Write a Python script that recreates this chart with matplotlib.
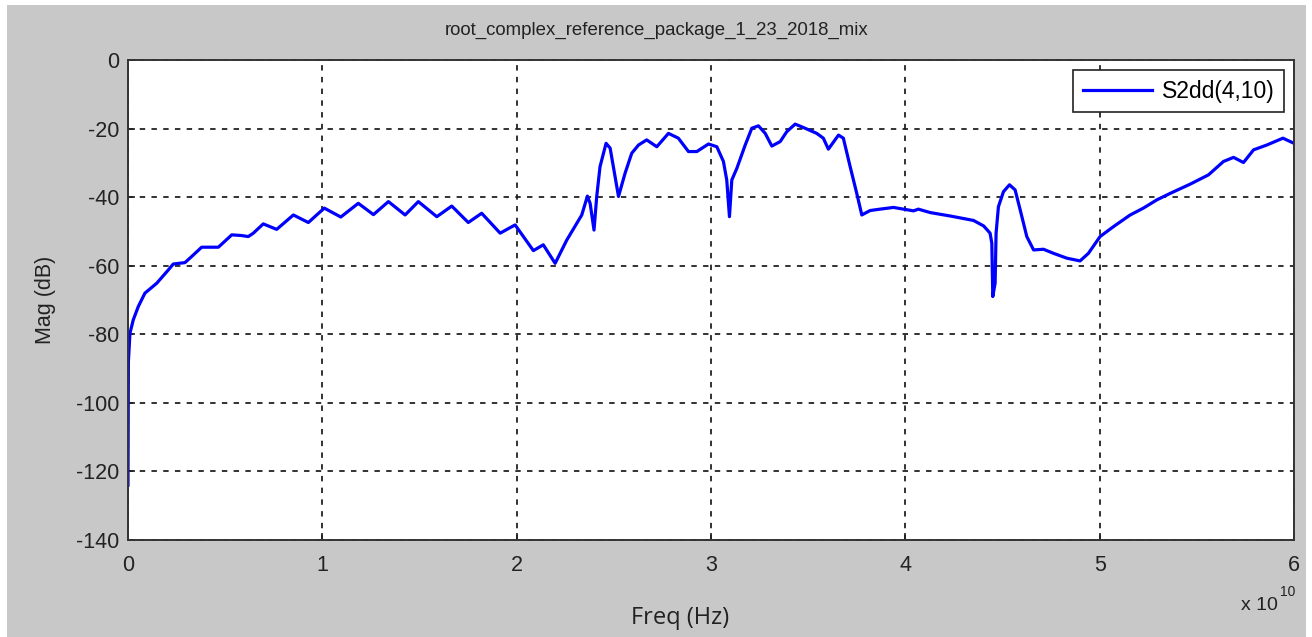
import numpy as np
import matplotlib
matplotlib.use("Agg")
import matplotlib.pyplot as plt
from matplotlib.patches import Rectangle
from matplotlib.ticker import FuncFormatter

# S2dd(4,10) magnitude trace, frequency in GHz and magnitude in dB
freq_ghz = [0.0, 0.02, 0.10, 0.27, 0.53, 0.87, 1.48, 2.08, 2.33, 2.93,
            3.28, 3.79, 4.65, 5.34, 5.85, 6.19, 6.45, 6.96, 7.65, 8.51,
            9.28, 10.1, 10.95, 11.85, 12.63, 13.40, 14.26, 14.94, 15.89, 16.66,
            17.51, 18.20, 19.15, 19.92, 20.86, 21.37, 21.98, 22.58, 23.35, 23.64,
            23.78, 23.98, 24.12, 24.29, 24.60, 24.81, 25.24, 25.58, 25.92, 26.27,
            26.69, 27.21, 27.81, 28.32, 28.84, 29.27, 29.87, 30.30, 30.64, 30.81,
            30.95, 31.07, 31.33, 31.76, 32.10, 32.44, 32.79, 33.13, 33.56, 33.90,
            34.33, 34.84, 35.44, 35.78, 36.04, 36.56, 36.81, 37.16, 37.50, 37.76,
            38.19, 38.70, 39.39, 40.42, 40.67, 41.28, 42.31, 43.51, 44.03, 44.36,
            44.45, 44.50, 44.62, 44.67, 44.79, 45.05, 45.36, 45.65, 45.91, 46.25,
            46.60, 47.11, 47.63, 48.31, 48.99, 49.42, 50.02, 50.71, 51.57, 52.25,
            52.94, 53.63, 54.66, 55.60, 56.37, 56.89, 57.40, 57.92, 58.60, 59.43,
            60.0]
mag_db = [-124.0, -88.0, -79.7, -75.8, -71.9, -68.0, -65.1, -61.2, -59.5, -59.1,
          -57.3, -54.6, -54.6, -51.0, -51.2, -51.5, -50.5, -47.8, -49.4, -45.2,
          -47.4, -43.2, -45.8, -41.8, -45.1, -41.3, -45.2, -41.3, -45.7, -42.6,
          -47.4, -44.7, -50.5, -48.1, -55.6, -53.9, -59.3, -52.5, -45.2, -39.7,
          -41.8, -49.6, -39.8, -31.1, -24.3, -25.7, -39.8, -33.0, -27.2, -24.8,
          -23.3, -25.3, -21.4, -22.8, -26.7, -26.7, -24.5, -25.3, -29.6, -35.0,
          -45.7, -35.0, -31.6, -24.8, -19.9, -19.2, -21.4, -25.1, -23.8, -20.9,
          -18.7, -19.9, -21.4, -22.8, -26.0, -21.9, -22.8, -31.1, -38.9, -45.2,
          -43.9, -43.5, -43.0, -44.0, -43.5, -44.5, -45.5, -46.8, -48.4, -50.5,
          -53.4, -69.0, -65.1, -50.5, -42.8, -38.4, -36.4, -37.9, -43.7, -51.5,
          -55.4, -55.2, -56.4, -57.8, -58.6, -56.4, -51.5, -48.6, -45.2, -43.2,
          -40.8, -38.9, -36.2, -33.5, -29.6, -28.4, -29.9, -26.2, -24.8, -22.8,
          -24.3]

freq_hz = np.array(freq_ghz) * 1e9
mag = np.array(mag_db)

W, H = 1312, 637
plt.rcParams["font.family"] = ["Liberation Sans", "DejaVu Sans"]
plt.rcParams["axes.unicode_minus"] = False
fig = plt.figure(figsize=(W / 100, H / 100), dpi=100, facecolor="white")

# grey figure panel, like a MATLAB window
fig.patches.append(Rectangle((7 / W, 0), 1299 / W, 632 / H, transform=fig.transFigure,
                             facecolor="#c8c8c8", edgecolor="none", zorder=-10))

ax = fig.add_axes([128 / W, 97 / H, 1166 / W, 480 / H])
ax.set_facecolor("white")

ax.plot(freq_hz, mag, color="#0000ff", linewidth=2.3, label="S2dd(4,10)")

ax.set_xlim(0, 6e10)
ax.set_ylim(-140, 0)
ax.set_xticks(np.arange(0, 6.1e10, 1e10))
ax.set_yticks(np.arange(-140, 1, 20))
ax.xaxis.set_major_formatter(FuncFormatter(lambda v, p: f"{v / 1e10:g}"))
ax.tick_params(direction="in", length=5, width=1.2, colors="#222222", labelsize=15.5)
ax.tick_params(axis="x", pad=11)
ax.tick_params(axis="y", pad=6)
for s in ax.spines.values():
    s.set_linewidth(1.4)
    s.set_color("#333333")

ax.grid(True, color="#222222", linestyle=(0, (3, 3.5)), linewidth=1.3)

leg = ax.legend(loc="upper right", bbox_to_anchor=(1 - 10 / 1166, 1 - 10 / 480),
                borderaxespad=0, fancybox=False, framealpha=1, edgecolor="#222222",
                fontsize=16.5, handlelength=3.05, handletextpad=0.4,
                borderpad=0.42)
leg.get_frame().set_linewidth(1.2)

# labels placed in figure pixels
fig.text(657 / W, 1 - 30 / H, "root_complex_reference_package_1_23_2018_mix",
         ha="center", va="center", fontsize=13.4, color="#222222")
fig.text(45 / W, 1 - 300 / H, "Mag (dB)", rotation=90, ha="center", va="center",
         fontsize=15.5, color="#222222")
fig.text(680 / W, 1 - 618 / H, "Freq (Hz)", ha="center", va="center",
         fontsize=17, color="#222222", family=["Open Sans", "DejaVu Sans"])
fig.text(1278 / W, 1 - 605 / H, "x 10", ha="right", va="center",
         fontsize=14, color="#222222")
fig.text(1280 / W, 1 - 592 / H, "10", ha="left", va="center",
         fontsize=10, color="#222222")

fig.savefig("out.png", dpi=100, facecolor=fig.get_facecolor())
